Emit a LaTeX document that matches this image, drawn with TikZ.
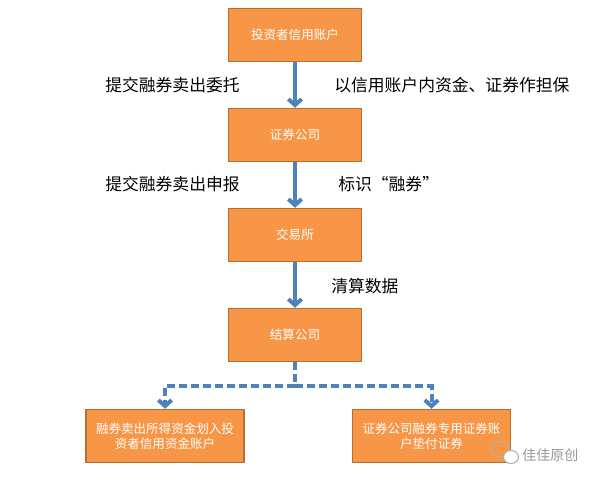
\documentclass[tikz,border=0pt]{standalone}
\usepackage{fontspec}
\setmainfont{Noto Sans CJK SC}
\usepackage{tikz}
\usetikzlibrary{calc,positioning,arrows,arrows.meta,shapes}
\definecolor{boxorange}{HTML}{F79646}
\definecolor{boxedge}{HTML}{B8702F}
\definecolor{flowblue}{HTML}{4F81BD}

\begin{document}
\begin{tikzpicture}[x=0.75pt,y=-0.75pt,>={Straight Barb[length=4.5pt,width=10pt]},
    stepbox/.style={rectangle,draw=boxedge,fill=boxorange,line width=1.1pt,minimum width=99.75pt,minimum height=39.75pt,inner sep=0pt,text=white,font=\fontsize{9.4pt}{11.3pt}\selectfont,align=center},
    resbox/.style={stepbox,minimum width=118.5pt},
    lbl/.style={anchor=west,inner sep=0pt,font=\fontsize{12.6pt}{15pt}\selectfont},
    flow/.style={->,draw=flowblue,line width=3pt},
    dflow/.style={flow,dash pattern=on 6pt off 3pt}]
            \useasboundingbox (0,0) rectangle (600,482);
            \node[stepbox] (acct) at (295,35) {投资者信用账户};
            \node[stepbox] (broker) at (295,135) {证券公司};
            \node[stepbox] (exch) at (295,235) {交易所};
            \node[stepbox] (clear) at (295,335) {结算公司};
            \node[resbox] (fund) at (165,436) {融券卖出所得资金划入投\\资者信用资金账户};
            \node[resbox] (stock) at (431.5,436) {证券公司融券专用证券账\\户垫付证券};

            \draw[flow] (acct) -- (broker);
            \draw[flow] (broker) -- (exch);
            \draw[flow] (exch) -- (clear);
            \draw[dflow,-] (clear.south) -- ++(0,24) coordinate (split);
            \draw[dflow] (split) -| (fund.north);
            \draw[dflow] (split) -| (stock.north);

            \node[lbl] (l1) at (105,85) {提交融券卖出委托};
            \node[lbl] (r1) at (334,85) {以信用账户内资金、证券作担保};
            \node[lbl] (l2) at (105,184) {提交融券卖出申报};
            \node[lbl] (r2) at (338,184) {标识“融券”};
            \node[lbl] (r3) at (331,286) {清算数据};

            % watermark
            \draw[gray!60,line width=0.8pt] (500,449) ellipse (9 and 7.5);
            \draw[gray!60,line width=0.8pt,fill=white] (511,457) ellipse (7.5 and 6.5);
            \node[lbl,text=gray!80,font=\fontsize{10.5pt}{12pt}\selectfont] (mark) at (522,455) {佳佳原创};
          \end{tikzpicture}
\end{document}
